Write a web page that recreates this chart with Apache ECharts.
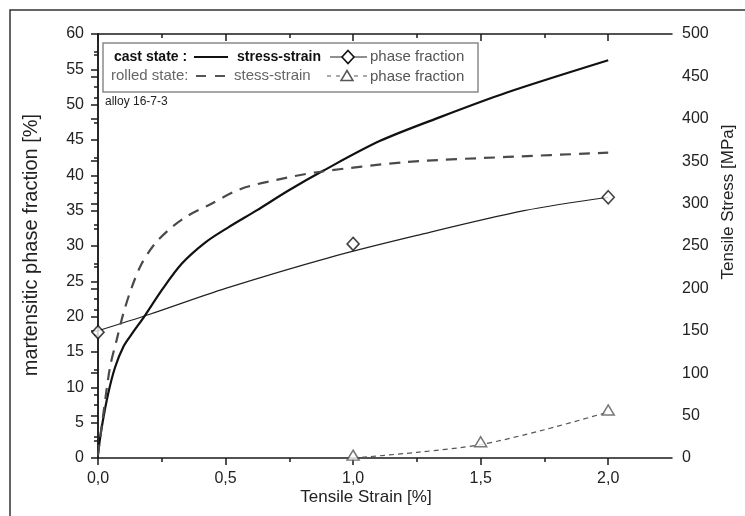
<!DOCTYPE html>
<html>
<head>
<meta charset="utf-8">
<script src="https://cdn.jsdelivr.net/npm/echarts@6/dist/echarts.min.js"></script>
<style>
  html, body { margin: 0; padding: 0; background: #fff; }
  #chart { width: 745px; height: 516px; }
</style>
</head>
<body>
<div id="chart"></div>
<script>
// Cast state, tensile stress-strain curve (strain %, stress MPa)
const castStrain = [0.0, 0.0145, 0.04, 0.067, 0.099, 0.132, 0.184, 0.25, 0.328, 0.42, 0.511, 0.622, 0.75, 0.884, 1.106, 1.341, 1.603, 2.0];
const castStress = [5, 36, 76, 107, 131, 146, 168, 198, 229, 254, 272, 292, 316, 339, 374, 402, 431, 469];

// Rolled state, tensile stress-strain curve
const rolledStrain = [0.0, 0.004, 0.021, 0.047, 0.073, 0.099, 0.132, 0.171, 0.224, 0.289, 0.354, 0.433, 0.557, 0.7, 0.858, 1.21, 1.603, 2.0];
const rolledStress = [3, 13, 52, 107, 139, 170, 201, 229, 253, 272, 286, 298, 317, 328, 337, 349, 355, 360];

// Cast state, measured martensitic phase fraction (%) and its fitted trend
const castPhaseStrain = [0.0, 1.0, 2.0];
const castPhase = [17.8, 30.3, 36.9];
const castFitStrain = [0.0, 0.2, 0.5, 0.91, 1.25, 1.67, 2.0];
const castFit = [18.0, 20.3, 24.0, 28.4, 31.5, 35.0, 36.9];

// Rolled state, measured martensitic phase fraction (%) and its fitted trend
const rolledPhaseStrain = [1.0, 1.5, 2.0];
const rolledPhase = [0.4, 2.3, 6.8];
const rolledFitStrain = [1.0, 1.25, 1.5, 1.75, 2.0];
const rolledFit = [0.0, 0.8, 1.9, 4.0, 6.5];

// Axis ticks
const strainMajor = [0, 0.5, 1.0, 1.5, 2.0];
const strainMinor = [0.25, 0.75, 1.25, 1.75];

const pairs = (xs, ys) => xs.map((x, i) => [x, ys[i]]);

const FONT = '"Liberation Sans", Arial, Helvetica, sans-serif';
const INK = '#1a1a1a';

const chart = echarts.init(document.getElementById('chart'), null, { renderer: 'canvas' });

const baseX = {
  type: 'value', min: 0, max: 2.25, splitLine: { show: false },
  gridIndex: 0
};

const option = {
  backgroundColor: '#fff',
  animation: false,
  grid: { left: 98, right: 73, top: 34, bottom: 58 },
  xAxis: [
    Object.assign({}, baseX, {
      position: 'bottom',
      axisLine: { show: true, lineStyle: { color: INK, width: 1.5 } },
      axisTick: { show: true, customValues: strainMajor, length: 7, lineStyle: { color: INK, width: 1.5 } },
      axisLabel: {
        customValues: strainMajor, margin: 13,
        fontFamily: FONT, fontSize: 16, color: '#222',
        formatter: v => v.toFixed(1).replace('.', ',')
      }
    }),
    Object.assign({}, baseX, {
      position: 'bottom',
      axisLine: { show: false },
      axisTick: { show: true, customValues: strainMinor, length: 4, lineStyle: { color: INK, width: 1.5 } },
      axisLabel: { show: false }
    }),
    Object.assign({}, baseX, {
      position: 'top',
      axisLine: { show: true, lineStyle: { color: INK, width: 1.5 } },
      axisTick: { show: true, inside: true, customValues: strainMajor, length: 7, lineStyle: { color: INK, width: 1.5 } },
      axisLabel: { show: false }
    }),
    Object.assign({}, baseX, {
      position: 'top',
      axisLine: { show: false },
      axisTick: { show: true, inside: true, customValues: strainMinor, length: 4, lineStyle: { color: INK, width: 1.5 } },
      axisLabel: { show: false }
    })
  ],
  yAxis: [
    {
      type: 'value', position: 'left', min: 0, max: 60, interval: 5,
      splitLine: { show: false },
      axisLine: { show: true, lineStyle: { color: INK, width: 1.5 } },
      axisTick: { show: true, length: 7, lineStyle: { color: INK, width: 1.5 } },
      minorTick: { show: true, splitNumber: 2, length: 4, lineStyle: { color: INK, width: 1.5 } },
      axisLabel: { margin: 14, fontFamily: FONT, fontSize: 16, color: '#222' }
    },
    {
      type: 'value', position: 'right', min: 0, max: 500, interval: 50,
      splitLine: { show: false },
      axisLine: { show: true, lineStyle: { color: INK, width: 1.5 } },
      axisTick: { show: true, inside: true, length: 7, lineStyle: { color: INK, width: 1.5 } },
      minorTick: { show: true, splitNumber: 2, length: 4, lineStyle: { color: INK, width: 1.5 } },
      axisLabel: { margin: 10, fontFamily: FONT, fontSize: 16, color: '#222' }
    }
  ],
  series: [
    {
      name: 'cast stress-strain', type: 'line', xAxisIndex: 0, yAxisIndex: 1,
      data: pairs(castStrain, castStress), showSymbol: false, symbol: 'none',
      smooth: 0.3,
      lineStyle: { color: '#111', width: 2.2 }, z: 3
    },
    {
      name: 'rolled stress-strain', type: 'line', xAxisIndex: 0, yAxisIndex: 1,
      data: pairs(rolledStrain, rolledStress), showSymbol: false, symbol: 'none',
      smooth: 0.3,
      lineStyle: { color: '#4a4a4a', width: 2.2, type: [11, 8] }, z: 3
    },
    {
      name: 'cast phase fit', type: 'line', xAxisIndex: 0, yAxisIndex: 0,
      data: pairs(castFitStrain, castFit), showSymbol: false, symbol: 'none',
      smooth: 0.3,
      lineStyle: { color: '#222', width: 1.2 }, z: 2
    },
    {
      name: 'cast phase fraction', type: 'scatter', xAxisIndex: 0, yAxisIndex: 0,
      data: pairs(castPhaseStrain, castPhase),
      symbol: 'diamond', symbolSize: [12, 13],
      itemStyle: { color: '#fff', borderColor: '#111', borderWidth: 1.6 }, z: 5
    },
    {
      name: 'rolled phase fit', type: 'line', xAxisIndex: 0, yAxisIndex: 0,
      data: pairs(rolledFitStrain, rolledFit), showSymbol: false, symbol: 'none',
      smooth: 0.3,
      lineStyle: { color: '#555', width: 1.2, type: [5, 4] }, z: 2
    },
    {
      name: 'rolled phase fraction', type: 'scatter', xAxisIndex: 0, yAxisIndex: 0,
      data: pairs(rolledPhaseStrain, rolledPhase),
      symbol: 'triangle', symbolSize: [12, 10],
      itemStyle: { color: '#fff', borderColor: '#555', borderWidth: 1.5 }, z: 5
    }
  ],
  graphic: [
    // outer frame
    { type: 'rect', silent: true, z: 0,
      shape: { x: 10, y: 10, width: 760, height: 540 },
      style: { fill: 'none', stroke: '#333', lineWidth: 1.5 } },
    // axis titles
    { type: 'text', x: 31, y: 245, rotation: Math.PI / 2, z: 10,
      style: { text: 'martensitic phase fraction [%]', fontFamily: FONT, fontSize: 20, fill: '#222',
               align: 'center', verticalAlign: 'middle' } },
    { type: 'text', x: 728, y: 202, rotation: Math.PI / 2, z: 10,
      style: { text: 'Tensile Stress [MPa]', fontFamily: FONT, fontSize: 17, fill: '#222',
               align: 'center', verticalAlign: 'middle' } },
    { type: 'text', x: 366, y: 497, z: 10,
      style: { text: 'Tensile Strain [%]', fontFamily: FONT, fontSize: 17, fill: '#222',
               align: 'center', verticalAlign: 'middle' } },
    // legend box
    { type: 'rect', z: 20,
      shape: { x: 103, y: 43, width: 375, height: 49 },
      style: { fill: '#fff', stroke: '#8a8a8a', lineWidth: 1.5 } },
    // row 1: cast state
    { type: 'text', x: 114, y: 57, z: 21,
      style: { text: 'cast state :', fontFamily: FONT, fontSize: 14, fontWeight: 'bold', fill: '#111', verticalAlign: 'middle' } },
    { type: 'line', z: 21, shape: { x1: 194, y1: 57, x2: 228, y2: 57 }, style: { stroke: '#111', lineWidth: 2 } },
    { type: 'text', x: 237, y: 57, z: 21,
      style: { text: 'stress-strain', fontFamily: FONT, fontSize: 14, fontWeight: 'bold', fill: '#111', verticalAlign: 'middle' } },
    { type: 'line', z: 21, shape: { x1: 330, y1: 57, x2: 367, y2: 57 }, style: { stroke: '#222', lineWidth: 1.2 } },
    { type: 'polygon', z: 22, shape: { points: [[348, 50.5], [354, 57], [348, 63.5], [342, 57]] },
      style: { fill: '#fff', stroke: '#111', lineWidth: 1.6 } },
    { type: 'text', x: 370, y: 57, z: 21,
      style: { text: 'phase fraction', fontFamily: FONT, fontSize: 15, fill: '#555', verticalAlign: 'middle' } },
    // row 2: rolled state
    { type: 'text', x: 111, y: 76, z: 21,
      style: { text: 'rolled state:', fontFamily: FONT, fontSize: 15, fill: '#666', verticalAlign: 'middle' } },
    { type: 'line', z: 21, shape: { x1: 196, y1: 76, x2: 227, y2: 76 },
      style: { stroke: '#555', lineWidth: 2, lineDash: [10, 9] } },
    { type: 'text', x: 234, y: 76, z: 21,
      style: { text: 'stess-strain', fontFamily: FONT, fontSize: 15, fill: '#666', verticalAlign: 'middle' } },
    { type: 'line', z: 21, shape: { x1: 327, y1: 76, x2: 368, y2: 76 },
      style: { stroke: '#555', lineWidth: 1.2, lineDash: [4, 5] } },
    { type: 'polygon', z: 22, shape: { points: [[347, 70.5], [353, 80.5], [341, 80.5]] },
      style: { fill: '#fff', stroke: '#555', lineWidth: 1.5 } },
    { type: 'text', x: 370, y: 77, z: 21,
      style: { text: 'phase fraction', fontFamily: FONT, fontSize: 15, fill: '#555', verticalAlign: 'middle' } },
    // alloy designation
    { type: 'text', x: 105, y: 102, z: 21,
      style: { text: 'alloy 16-7-3', fontFamily: FONT, fontSize: 12, fill: '#222', verticalAlign: 'middle' } }
  ]
};

chart.setOption(option);
</script>
</body>
</html>
